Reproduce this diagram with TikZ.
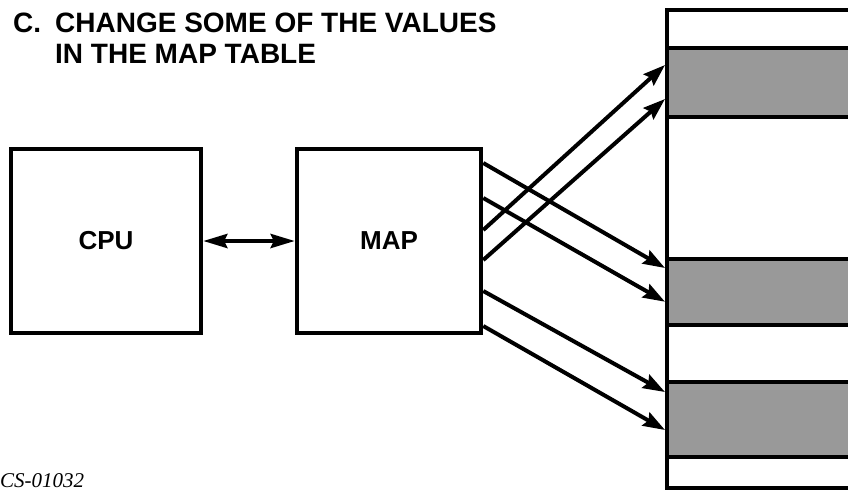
\documentclass[tikz,border=0pt]{standalone}
\usepackage{fontspec}
\setmainfont{Liberation Sans}
\newfontfamily\plateit{Liberation Serif}
\usetikzlibrary{positioning,arrows.meta}

\begin{document}
\begin{tikzpicture}[
    x=1pt, y=-1pt,
    title/.style ={font=\bfseries\fontsize{28}{32}\selectfont, inner sep=0pt},
    unit/.style  ={draw, line width=4.5pt, minimum height=184pt, inner sep=0pt, font=\bfseries\fontsize{26}{30}\selectfont},
    store/.style ={draw, line width=4pt, minimum width=203pt, inner sep=0pt},
    band/.style  ={draw, line width=4pt, fill=black!40, minimum width=203pt, inner sep=0pt},
    link/.style  ={-{Stealth[length=22pt,width=15pt,inset=3pt]}, line width=4pt},
    both/.style  ={{Stealth[length=24pt,width=14pt,inset=3pt]}-{Stealth[length=24pt,width=14pt,inset=3pt]}, line width=4pt},
  ]
  \clip (0,0) rectangle (848,491);
  % heading
  \node[title, anchor=base west] (tag)    at (13, 32) {C.};
  \node[title, anchor=base west] (head1)  at (55, 32) {CHANGE SOME OF THE VALUES};
  \node[title, anchor=base west] (head2)  at (55, 63) {IN THE MAP TABLE};
  % units
  \node[unit, minimum width=190pt] (cpu) at (106, 241) {CPU};
  \node[unit, minimum width=184pt] (map) at (389, 241) {MAP};
  \draw[both] (cpu.east) -- (map.west);
  % memory column
  \node[store, minimum height=478pt] (mem) at (768.5, 249) {};
  \node[band, minimum height=69pt]   (band1) at (768.5, 82.5)  {};
  \node[band, minimum height=66.5pt] (band2) at (768.5, 291.75) {};
  \node[band, minimum height=75pt]   (band3) at (768.5, 419)   {};
  % changed map entries
  \draw[link] ([yshift=11pt]map.east)  -- ([yshift=17.5pt]band1.west);
  \draw[link] ([yshift=-19pt]map.east) -- ([yshift=-16.5pt]band1.west);
  \draw[link] ([yshift=78pt]map.east)  -- ([yshift=23.75pt]band2.west);
  \draw[link] ([yshift=43pt]map.east)  -- ([yshift=-10pt]band2.west);
  \draw[link] ([yshift=-50pt]map.east) -- ([yshift=27pt]band3.west);
  \draw[link] ([yshift=-85pt]map.east) -- ([yshift=-11pt]band3.west);
  % plate number
  \node[font=\plateit\itshape\fontsize{21}{24}\selectfont, anchor=base west, inner sep=0pt] (plate) at (0, 487) {CS-01032};
\end{tikzpicture}
\end{document}
